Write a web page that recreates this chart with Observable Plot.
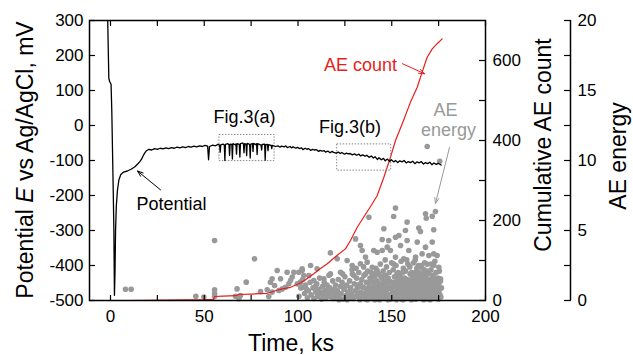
<!DOCTYPE html>
<html><head><meta charset="utf-8">
<script src="https://cdn.jsdelivr.net/npm/d3@7"></script>
<script src="https://cdn.jsdelivr.net/npm/@observablehq/plot@0.6"></script>
<style>
html,body{margin:0;padding:0;background:#fff;}
#chart{position:relative;width:633px;height:355px;}
#chart svg{position:absolute;left:0;top:0;}
</style></head><body><div id="chart"></div>
<script>
// ---------- data ----------
const potential = [
[-1.6,330],[-1.2,220],[-0.9,135],[-0.4,125],[0.3,118],[0.7,40],[1.1,-80],[1.5,-200],[1.8,-300],[2.1,-485],[2.4,-420],[2.7,-300],[3.1,-230],[3.7,-185],[4.5,-155],[5.5,-140],[7,-133],[9,-130],[11,-125],[13,-118],[14.5,-110],[15.5,-104],[16.5,-97],[17.3,-88],[18.2,-79],[19.2,-72],[20.5,-68],[22,-70],[23.5,-66],[25,-68],[26.5,-65],[28,-67],[29.5,-64],[31,-66],[32.5,-63],[34,-65],[35.5,-62],[37,-64],[38.5,-61],[40,-63],[41.5,-60],[43,-62],[44.5,-59],[46,-61],[47.5,-58],[49,-60],[50.5,-57],[51.8,-59],[52.3,-98],[52.8,-60],
[54.5,-56],[56,-58],[57.3,-54],[58.2,-56],[58.5,-76],[58.8,-55],[60,-53],[60.7,-56],[61,-100],[61.3,-54],[62.6,-52],[63.2,-55],[63.5,-85],[63.8,-53],[64.7,-54],[65,-96],[65.3,-52],[66.5,-55],[66.9,-53],[67.2,-82],[67.5,-52],[68.7,-54],[69,-90],[69.3,-52],[70.5,-50],[70.9,-53],[71.2,-78],[71.5,-52],[72.3,-53],[72.6,-86],[72.9,-51],[74.2,-54],[74.5,-93],[74.8,-53],[75.7,-52],[76,-74],[76.3,-51],[77.5,-55],[77.9,-52],[78.2,-83],[78.5,-52],[80.3,-56],[80.6,-70],[80.9,-54],[82.2,-53],[82.5,-99],[82.8,-55],[83.7,-54],[84,-72],[84.3,-55],[85.7,-57],[86,-66],[86.3,-57],[88,-60],
[89.3,-58],[90.4,-62],[91.2,-59],[92.6,-61],[93.5,-58],[94.3,-63],[95.8,-60],[96.6,-64],[97.4,-61],[98.9,-65],[99.7,-62],[100.8,-66],[101.9,-64],[102.6,-69],[103.8,-65],[104.9,-68],[105.5,-66],[106.7,-71],[107.8,-68],[108.6,-70],[109.9,-69],[111,-74],[111.8,-71],[112.9,-73],[114,-72],[114.7,-76],[115.9,-73],[117.1,-78],[118.2,-74],[119,-77],[120.3,-79],[121.5,-76],[122.6,-80],[123.4,-77],[124.8,-82],[125.9,-79],[126.7,-81],[127.8,-80],[129,-84],[130.1,-81],[131.3,-85],[132.5,-82],[133.4,-87],[134.6,-84],[135.8,-88],[136.7,-85],[137.9,-91],[139.1,-87],[140.2,-93],[141.1,-89],[142.3,-97],[143.2,-92],[144.4,-98],[145.6,-94],[146.5,-101],[147.7,-96],[148.9,-103],[149.8,-98],[151.1,-104],[152,-100],[153.2,-106],[154.3,-101],[155.5,-104],[156.6,-100],[157.7,-107],[158.8,-103],[160,-106],[161.2,-102],[162.3,-109],[163.4,-104],[164.6,-107],[165.7,-103],[166.9,-110],[168,-106],[169.1,-109],[170.3,-105],[171.4,-112],[172.5,-107],[173.7,-111],[174.8,-108],[176.3,-113]
];
const countTime  = [9, 20, 30, 40, 50, 55, 55.5, 60, 67, 68.3, 75, 83.6, 89.8, 96, 100.4, 104, 108.4, 112, 115.6, 120.9, 125.3, 128, 131.6, 135, 139.6, 142.2, 145.8, 149.3, 152, 155.6, 160, 163.6, 166.2, 168.9, 171.6, 174.2, 176.9];
const countValue = [0, 0.5, 1, 1.5, 2, 3, 10, 11, 12, 15, 16, 18, 27, 33, 42, 52, 67, 80, 92, 113, 129, 150, 183, 208, 242, 262, 308, 358, 400, 442, 496, 533, 571, 608, 629, 642, 654];
const aeEnergy = [
[8,0.8],[11,0.8],[45.5,0.3],[49.8,0.25],[55.5,4.29],[55.5,0.76],[55.5,0.5],[55.5,0.28],[66.7,0.3],[67.5,0.83],[68.5,0.12],[69.3,0.36],[72.4,1.31],[76.8,2.98],[80,0.64],[83.6,0.76],[84.4,0.29],[85.3,1.3],[86.2,1.55],[86.2,0.6],[87.5,1.07],[88.9,2.14],[89.8,0.71],[90.7,1.55],[91.6,0.83],[93.3,0.95],[94.2,2.02],[95.1,1.19],[96,1.43],[96.9,1.67],[97.8,2.02],[99.6,1.19],[100.4,2.02],[102.2,2.14],[102.2,0.95],
[101.3,1.31],[102.2,2.26],[103.1,1.79],[105.8,1.79],[106.7,2.5],[108.4,1.43],[110.2,2.26],[113.8,1.55],[117.3,3.4],[117.3,1.9],[120.9,2.98],[122.7,2.02],[126.2,2.86],[128.9,2.5],[129.8,1.79],[130.7,4.4],[133.3,3.93],[133.3,2.62],[134.2,3.57],[136,3.1],[136,1.9],[136.9,2.74],[137.8,5.95],[139.6,2.38],[140.4,3.57],[142.2,2.14],[142.2,3.45],
[144.9,4.36],[144.9,3.57],[145.8,5.12],[147.6,3.81],[148.4,4.29],[149.3,3.57],[151,6.0],[152,6.6],[152,4.52],[152,3.1],[153.8,4.64],[154.7,3.93],[156.4,2.98],[157.3,5.0],[158.2,5.6],[158.2,4.29],[159.1,3.57],[162.7,3.1],[163.6,4.17],[164.4,5.17],[165.3,4.93],[166.2,3.33],[168,6.19],[168,3.81],[168.4,5.88],[168.9,11.0],[169.8,3.21],[171.6,6.02],[171.6,4.17],[172.4,3.33],[172.4,5.05],[173.3,6.36],[174.2,3.21],[175.1,2.38],[175.6,9.95],[176,1.55],[175.1,0.6],
[100.5,0.3],[101.5,0.9],[102.5,1.5],[103.5,0.5],[104,1.1],[105,0.2],[105.5,0.7],[106.5,1.3],[107,0.4],[108,0.9],[108.5,0.15],[109.5,0.6],[110,1.2],
[110.5,0.3],[111,0.8],[111.5,1.6],[112,0.5],[112.5,0.1],[113,1.0],[113.5,0.35],[114,1.3],[114.5,0.7],[115,0.2],[115.5,1.1],[116,0.5],[116.5,1.8],[117,0.9],[117.5,0.25],[118,0.6],[118.5,1.4],[119,0.15],[119.5,0.8],[120,1.1],
[120.5,0.4],[121,0.7],[121.5,1.5],[122,0.2],[122.5,1.0],[123,0.5],[123.5,1.3],[124,0.1],[124.5,0.8],[125,1.7],[125.5,0.35],[126,1.1],[126.5,0.6],[127,0.2],[127.5,1.4],[128,0.9],[128.5,0.45],[129,1.9],[129.5,0.15],[130,1.2],[130.5,0.7],[121.8,0.05],[126.2,0.05],[128.8,2.2],[123.8,1.9],
[130.8,0.3],[131.2,1.6],[131.6,0.9],[132,0.5],[132.4,2.0],[132.8,0.15],[133.2,1.2],[133.6,0.6],[134,1.5],[134.4,0.3],[134.8,0.95],[135.2,1.8],[135.6,0.5],[136,0.1],[136.4,1.3],[136.8,0.7],[137.2,2.1],[137.6,0.35],[138,1.0],[138.4,1.6],[138.8,0.2],[139.2,0.8],[139.6,1.35],[140,0.55],[131,2.3],[133,0.05],[135,2.4],[137,0.05],[139,2.0],[134.2,0.45],[136.2,0.85],[138.2,0.6],[139.8,1.9],
[140.3,0.2],[140.6,1.1],[140.9,1.7],[141.2,0.6],[141.5,2.3],[141.8,0.35],[142.1,1.4],[142.4,0.9],[142.7,0.1],[143,1.9],[143.3,0.5],[143.6,1.2],[143.9,2.6],[144.2,0.75],[144.5,0.25],[144.8,1.55],[145.1,1.0],[145.4,2.1],[145.7,0.45],[146,1.3],[146.3,0.15],[146.6,1.8],[146.9,0.65],[147.2,2.4],[147.5,1.1],[147.8,0.3],[148.1,1.6],[148.4,0.85],[148.7,2.0],[149,0.4],[149.3,1.35],[149.6,0.1],[149.9,2.7],[140.5,0.7],[142,2.0],[143.5,0.05],[145,0.6],[146.5,2.9],[148,0.05],[149.5,0.9],[141,0.05],[144,1.75],[147,0.5],
[150.2,0.3],[150.5,1.2],[150.8,2.2],[151.1,0.6],[151.4,1.7],[151.7,0.15],[152,1.0],[152.3,2.5],[152.6,0.45],[152.9,1.4],[153.2,0.8],[153.5,2.0],[153.8,0.25],[154.1,1.15],[154.4,1.85],[154.7,0.55],[155,2.8],[155.3,0.1],[155.6,1.3],[155.9,0.9],[156.2,2.3],[156.5,0.35],[156.8,1.6],[157.1,0.7],[157.4,2.1],[157.7,1.05],[158,0.2],[158.3,1.5],[158.6,2.6],[158.9,0.5],[159.2,1.25],[159.5,0.85],[159.8,1.9],[150,0.9],[151,2.6],[152.5,0.05],[153,1.75],[154,0.4],[155.2,1.6],[156,0.05],[157,1.35],[158,2.9],[159,0.3],[159.6,2.4],[151.6,1.3],[153.6,0.6],[155.8,2.0],[157.6,0.4],[159.4,1.0],
[160.1,0.25],[160.4,1.1],[160.7,2.0],[161,0.6],[161.3,1.5],[161.6,2.7],[161.9,0.35],[162.2,0.95],[162.5,1.8],[162.8,0.1],[163.1,1.3],[163.4,2.3],[163.7,0.7],[164,1.6],[164.3,0.45],[164.6,2.0],[164.9,1.05],[165.2,0.2],[165.5,2.5],[165.8,1.4],[166.1,0.8],[166.4,1.9],[166.7,0.3],[167,1.2],[167.3,2.2],[167.6,0.6],[167.9,1.7],[168.2,0.15],[168.5,1.0],[168.8,2.6],[169.1,0.5],[169.4,1.45],[169.7,2.0],[170,0.9],[160.5,0.05],[161.5,0.9],[162.5,2.9],[163.5,0.4],[164.5,1.3],[165.5,0.6],[166.5,1.1],[167.5,2.7],[168.5,0.45],[169.5,0.1],[160.8,1.75],[162,1.55],[163,2.05],[164.2,2.5],[165,1.75],[166,2.35],[167,0.05],[168,1.35],[169,1.85],[169.8,0.75],
[170.3,0.3],[170.6,1.5],[170.9,2.2],[171.2,0.7],[171.5,1.1],[171.8,1.8],[172.1,0.2],[172.4,2.5],[172.7,0.9],[173,1.35],[173.3,0.5],[173.6,2.0],[173.9,1.0],[174.2,0.15],[174.5,1.6],[174.8,0.6],[175.1,1.2],[175.4,2.1],[175.7,0.4],[176,1.4],[170.5,0.05],[171,2.6],[172,1.4],[173,2.8],[174,0.75],[175,0.1],
[141.4,1.0],[142.9,0.8],[144.6,0.5],[146.1,0.9],[147.4,1.45],[148.8,0.25],[150.4,0.6],[151.9,0.35],[152.8,1.9],[154.2,0.8],[155.4,1.05],[156.9,0.15],[157.3,0.9],[158.5,1.15],[159.9,0.6],[160.2,1.4],[161.1,0.15],[161.8,1.2],[162.6,0.5],[163.2,0.85],[163.9,1.1],[164.8,0.3],[165.3,1.0],[166.3,0.4],[166.9,1.6],[167.8,0.9],[168.4,2.1],[169.3,0.7],[170.1,1.2],[170.8,0.55],[171.7,0.35],[172.3,1.7],[173.4,0.85],[174.1,1.35],[175.3,0.8],[176.2,0.25],[176.5,0.9],[131.9,1.1],[133.9,1.0],[135.4,0.25],[137.4,1.25],[138.6,1.4],[139.4,0.3],[127.8,0.6],[125.2,1.0],[119.8,0.45],[116.2,0.9],[113.2,0.6],[109.2,1.0],[104.6,0.8]
];
const timeTicks = [0, 25, 50, 75, 100, 125, 150, 175, 200];
const potentialTicks = [-500, -400, -300, -200, -100, 0, 100, 200, 300];
const countTicks = [0, 100, 200, 300, 400, 500, 600];
const energyTicks = [0, 2.5, 5, 7.5, 10, 12.5, 15, 17.5, 20];
const boxes = [{t1: 58.1, t2: 87.5, v1: -101.7, v2: -27}, {t1: 120.9, t2: 149.7, v1: -129, v2: -54}];

// ---------- layout ----------
const W = 633, H = 355;
const common = {width: W, height: H, marginLeft: 89, marginRight: 148, marginTop: 20, marginBottom: 55,
  style: {fontFamily: "'Liberation Sans', Arial, sans-serif", fontSize: "17px", background: "transparent", overflow: "visible", color: "black"}};
const xDomain = [-11.2, 200];
const RED = "rgb(232,30,28)", GRAY = "#999";

const potData = potential.map(([t, v]) => ({t, v}));
const countData = countTime.map((t, i) => ({t, c: countValue[i]}));
const aeData = aeEnergy.map(([t, e]) => ({t, e}));

const energyPlot = Plot.plot({...common,
  x: {domain: xDomain, axis: null}, y: {domain: [0, 20], axis: null},
  marks: [
    Plot.dot(aeData, {x: "t", y: "e", r: 2.8, fill: GRAY, stroke: "none"}),
    Plot.text([{t: 178.7, e: 13.56, s: "AE"}, {t: 180.3, e: 12.13, s: "energy"}], {x: "t", y: "e", text: "s", fill: GRAY, fontSize: 18}),
    Plot.arrow([{a: 180.8, b: 10.93, c: 173.3, d: 6.93}], {x1: "a", y1: "b", x2: "c", y2: "d", stroke: GRAY, strokeWidth: 1, headLength: 9, headAngle: 40}),
    Plot.ruleX([xDomain[1]], {dx: 85, stroke: "black", strokeWidth: 1.5}),
    Plot.axisY({anchor: "right", dx: 85, ticks: energyTicks, tickSize: -7, tickPadding: 14, strokeWidth: 1.2,
      tickFormat: d => d % 5 === 0 ? String(d) : "", label: null})
  ]});

const countPlot = Plot.plot({...common,
  x: {domain: xDomain, axis: null}, y: {domain: [0, 700], axis: null},
  marks: [
    Plot.line(countData, {x: "t", y: "c", stroke: RED, strokeWidth: 1.2}),
    Plot.text([{t: 133.3, c: 589, s: "AE count"}], {x: "t", y: "c", text: "s", fill: RED, fontSize: 18}),
    Plot.arrow([{a: 155.7, b: 592, c: 167.5, d: 567}], {x1: "a", y1: "b", x2: "c", y2: "d", stroke: RED, strokeWidth: 1, headLength: 9, headAngle: 40}),
    Plot.axisY({anchor: "right", ticks: countTicks, tickSize: -7, tickPadding: 14, strokeWidth: 1.2,
      tickFormat: d => d % 200 === 0 ? String(d) : "", label: null})
  ]});

const potPlot = Plot.plot({...common,
  x: {domain: xDomain}, y: {domain: [-500, 300]},
  marks: [
    Plot.rect(boxes, {x1: "t1", x2: "t2", y1: "v1", y2: "v2", fill: "none", stroke: "#888", strokeWidth: 1, strokeDasharray: "1.5,1.5"}),
    Plot.line(potData, {x: "t", y: "v", stroke: "black", strokeWidth: 1.3, clip: true}),
    Plot.text([{t: 71.5, v: 22.5, s: "Fig.3(a)"}, {t: 127.7, v: -5, s: "Fig.3(b)"}, {t: 32.5, v: -224, s: "Potential"}],
      {x: "t", y: "v", text: "s", fill: "black", fontSize: 18}),
    Plot.arrow([{a: 26.7, b: -184, c: 14.4, d: -130}], {x1: "a", y1: "b", x2: "c", y2: "d", stroke: "black", strokeWidth: 1, headLength: 9, headAngle: 40}),
    Plot.axisY({anchor: "left", ticks: potentialTicks, tickSize: -6, tickPadding: 12, strokeWidth: 1.2, tickFormat: d => String(d), label: null}),
    Plot.axisX({anchor: "bottom", ticks: timeTicks, tickSize: -5, tickPadding: 14, strokeWidth: 1.2, tickFormat: d => d % 50 === 0 ? String(d) : "", label: null}),
    Plot.axisX({anchor: "top", ticks: timeTicks, tickSize: -5, tickPadding: 0, strokeWidth: 1.2, tickFormat: () => "", label: null}),
    Plot.frame({stroke: "black", strokeWidth: 1.5})
  ]});

const chart = document.getElementById("chart");
chart.append(energyPlot, countPlot, potPlot);

// ---------- axis titles ----------
const svg = d3.select(potPlot);
const fontFam = "'Liberation Sans', Arial, sans-serif";
const left = svg.append("text").attr("transform", "translate(33,160) rotate(-90)")
  .attr("text-anchor", "middle").attr("font-size", 23).attr("font-family", fontFam).attr("fill", "black");
left.append("tspan").text("Potential ");
left.append("tspan").attr("font-style", "italic").text("E");
left.append("tspan").text(" vs Ag/AgCl, mV");
svg.append("text").attr("transform", "translate(551,145) rotate(-90)").attr("text-anchor", "middle")
  .attr("font-size", 23).attr("font-family", fontFam).attr("fill", "black").text("Cumulative AE count");
svg.append("text").attr("transform", "translate(626,156) rotate(-90)").attr("text-anchor", "middle")
  .attr("font-size", 23).attr("font-family", fontFam).attr("fill", "black").text("AE energy");
svg.append("text").attr("x", 291).attr("y", 351).attr("text-anchor", "middle")
  .attr("font-size", 23).attr("font-family", fontFam).attr("fill", "black").text("Time, ks");
</script></body></html>
